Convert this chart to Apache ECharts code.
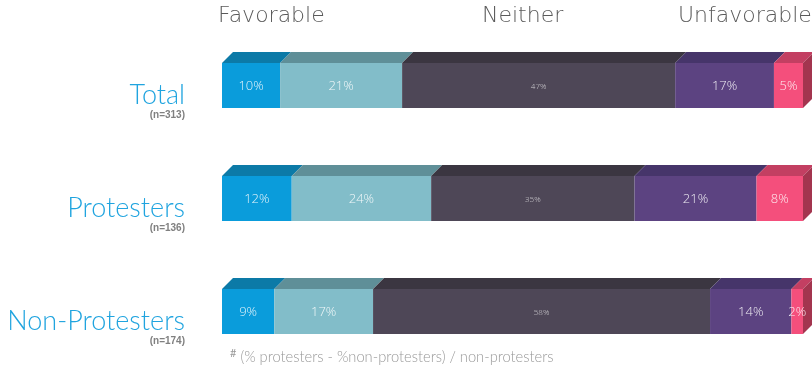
<!DOCTYPE html>
<html>
<head>
<meta charset="utf-8">
<script src="https://cdn.jsdelivr.net/npm/echarts@6/dist/echarts.min.js"></script>
<style>html,body{margin:0;padding:0;background:#fff;}#c{width:812px;height:372px;}</style>
</head>
<body>
<div id="c"></div>
<script>
var categories = ['Total', 'Protesters', 'Non-Protesters'];
var sampleSizes = ['(n=313)', '(n=136)', '(n=174)'];
var headerLabels = ['Favorable', 'Neither', 'Unfavorable'];
var segmentNames = ['Favorable', 'Somewhat favorable', 'Neither', 'Somewhat unfavorable', 'Unfavorable'];
var favorable = [10, 12, 9];
var somewhatFavorable = [21, 24, 17];
var neither = [47, 35, 58];
var somewhatUnfavorable = [17, 21, 14];
var unfavorable = [5, 8, 2];
var footnote = '(% protesters - %non-protesters) / non-protesters';

var segments = [favorable, somewhatFavorable, neither, somewhatUnfavorable, unfavorable];
var frontColors = ['#0a9cdb', '#82bdc9', '#4e4757', '#5c4381', '#f44f7c'];
var topColors = ['#0c7aa7', '#5f8f98', '#3b3641', '#46356a', '#c33f62'];
var sideColor = '#a3354f';
var labelSizes = [13, 13, 8, 13, 13];

var BAR_H = 45, DEPTH = 11;

function buildData(k) {
  return categories.map(function (c, i) {
    var start = 0;
    for (var j = 0; j < k; j++) start += segments[j][i];
    return [start, start + segments[k][i], i, segments[k][i]];
  });
}

function makeRender(k) {
  return function (params, api) {
    var s = api.coord([api.value(0), api.value(2)]);
    var e = api.coord([api.value(1), api.value(2)]);
    var x0 = s[0], x1 = e[0], yc = s[1];
    var top = yc - BAR_H / 2, bot = yc + BAR_H / 2;
    var children = [
      { type: 'polygon', shape: { points: [[x0, top], [x0 + DEPTH, top - DEPTH], [x1 + DEPTH, top - DEPTH], [x1, top]] },
        style: { fill: topColors[k] } },
      { type: 'rect', shape: { x: x0, y: top, width: x1 - x0, height: BAR_H },
        style: { fill: frontColors[k] } }
    ];
    if (k === segments.length - 1) {
      children.push({ type: 'polygon', shape: { points: [[x1, top], [x1 + DEPTH, top - DEPTH], [x1 + DEPTH, bot - DEPTH], [x1, bot]] },
        style: { fill: sideColor } });
    }
    children.push({ type: 'text', x: (x0 + x1) / 2, y: yc + 1,
      style: { text: api.value(3) + '%', fill: k === 2 ? 'rgba(255,255,255,0.7)' : 'rgba(255,255,255,0.88)',
        fontSize: labelSizes[k], fontFamily: 'Open Sans', fontWeight: 300, align: 'center', verticalAlign: 'middle' } });
    return { type: 'group', children: children };
  };
}

var series = segments.map(function (arr, k) {
  return {
    type: 'custom', name: segmentNames[k], renderItem: makeRender(k),
    encode: { x: [0, 1], y: 2 }, data: buildData(k), clip: false
  };
});

var headerX = [218, 482, 678];
var graphics = headerLabels.map(function (t, i) {
  return { type: 'text', left: headerX[i], top: 5,
    style: { text: t, fill: '#5a5a5a', fontSize: 22, fontFamily: 'DejaVu Sans', fontWeight: 200 } };
});
graphics.push({ type: 'text', left: 230, top: 348,
  style: { rich: { s: { fontSize: 11, fill: '#999', fontFamily: 'Lato', verticalAlign: 'top', padding: [0, 4, 8, 0] },
                   t: { fontSize: 14.7, fill: '#999', fontFamily: 'Lato', fontWeight: 300 } },
           text: '{s|#}{t|' + footnote + '}' } });

var chart = echarts.init(document.getElementById('c'));
chart.setOption({
  animation: false,
  grid: { left: 222, right: 9, top: 29, bottom: 4 },
  xAxis: { type: 'value', min: 0, max: 100, show: false },
  yAxis: {
    type: 'category', inverse: true, data: categories,
    axisLine: { show: false }, axisTick: { show: false }, splitLine: { show: false },
    axisLabel: {
      margin: 37, align: 'right', padding: [34, 0, 0, 0],
      formatter: function (v, i) { return '{a|' + v + '}\n{b|' + sampleSizes[i] + '}'; },
      rich: {
        a: { fontSize: 27, fontFamily: 'Lato', fontWeight: 300, color: '#20a4df', lineHeight: 26, align: 'right' },
        b: { fontSize: 10, fontFamily: 'Arial', fontWeight: 'bold', color: '#808080', lineHeight: 14, align: 'right' }
      }
    }
  },
  graphic: graphics,
  series: series
});
</script>
</body>
</html>
